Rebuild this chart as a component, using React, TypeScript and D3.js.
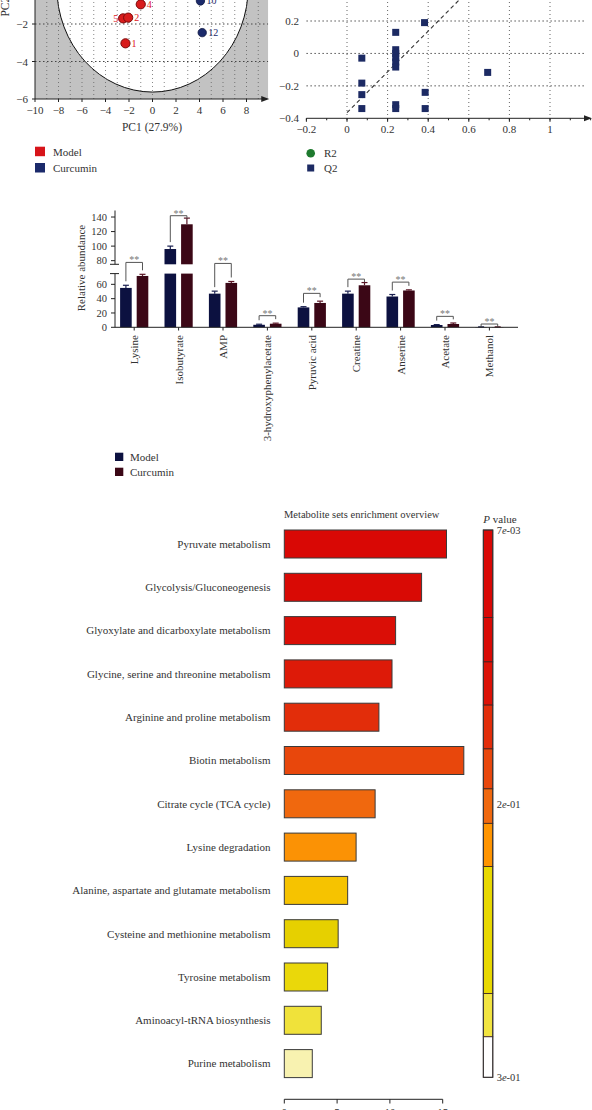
import React from 'react';
import * as d3 from 'd3';

const FONT = '"Liberation Serif", "DejaVu Serif", serif';
const TXT = '#333';

// ---------- Panel A: PCA score plot ----------
const pcaXTicks = [-10, -8, -6, -4, -2, 0, 2, 4, 6, 8];
const pcaYTicks = [-2, -4, -6];
const pcaModel = [
  { id: '1', x: -2.3, y: -3.03 },
  { id: '5', x: -2.5, y: -1.7 },
  { id: '2', x: -2.07, y: -1.66 },
  { id: '4', x: -1.0, y: -0.95 },
];
const pcaCurcumin = [
  { id: '10', x: 4.08, y: -0.77 },
  { id: '12', x: 4.23, y: -2.46 },
];
const ellipseAxes = [8.15, 5.63];

// ---------- Panel B: permutation test ----------
const permXTicks = [-0.2, 0, 0.2, 0.4, 0.6, 0.8, 1];
const permYTicks = [0.2, 0, -0.2, -0.4];
const q2X = [0.382, 0.24, 0.24, 0.24, 0.24, 0.24, 0.24, 0.073, 0.073, 0.073, 0.073, 0.24, 0.24, 0.385, 0.385, 0.693];
const q2Y = [0.19, 0.13, 0.023, 0.0, -0.026, -0.053, -0.084, -0.029, -0.183, -0.254, -0.34, -0.316, -0.34, -0.24, -0.34, -0.117];
const q2Fit = [-0.365, 1.257]; // intercept, slope

// ---------- Panel C: bar chart ----------
const metabolites = ['Lysine', 'Isobutyrate', 'AMP', '3-hydroxyphenylacetate', 'Pyruvic acid', 'Creatine', 'Anserine', 'Acetate', 'Methanol'];
const modelMean = [55, 96, 47, 3.5, 27.8, 47, 43, 3.2, 0.4];
const modelErr = [3.7, 4, 3.5, 0.8, 1, 3.5, 2.8, 0.6, 0.2];
const curcMean = [71.7, 130, 62, 5, 34, 58.7, 51.4, 4.6, 0.4];
const curcErr = [2.3, 8.5, 2, 0.8, 2.5, 3.8, 0.9, 1.4, 0.2];
const sigLevels = [77.6, 141.8, 76.2, 16.2, 47.4, 67.3, 63.1, 15.3, 4.6];
const lowerTicks = [0, 20, 40, 60];
const upperTicks = [80, 100, 120, 140];

// ---------- Panel D: enrichment ----------
const pathways = [
  'Pyruvate metabolism',
  'Glycolysis/Gluconeogenesis',
  'Glyoxylate and dicarboxylate metabolism',
  'Glycine, serine and threonine metabolism',
  'Arginine and proline metabolism',
  'Biotin metabolism',
  'Citrate cycle (TCA cycle)',
  'Lysine degradation',
  'Alanine, aspartate and glutamate metabolism',
  'Cysteine and methionine metabolism',
  'Tyrosine metabolism',
  'Aminoacyl-tRNA biosynthesis',
  'Purine metabolism',
];
const foldEnrichment = [15.36, 13.0, 10.54, 10.2, 8.96, 17.0, 8.6, 6.8, 6.0, 5.1, 4.1, 3.5, 2.65];
const pathwayColors = ['#d90805', '#d90a05', '#da0e06', '#dd1a08', '#e22d0a', '#e8470c', '#f0680e', '#fb9205', '#f6c300', '#e6d000', '#ead80a', '#f0e23a', '#f8f2b0'];
const enrichTicks = [0, 5, 10, 15];
const pStops = [0, 0.16, 0.241, 0.32, 0.4, 0.473, 0.536, 0.615, 0.847, 0.926, 1];
const pColors = ['#d90805', '#d90a05', '#dc1206', '#e22d0a', '#e8470c', '#f0680e', '#ff9400', '#e8d800', '#f2e440', '#ffffff'];
const pLabels = [
  { m: '7', ex: '-03', pos: 0 },
  { m: '2', ex: '-01', pos: 0.5 },
  { m: '3', ex: '-01', pos: 1 },
];

const minus = (s: string) => s.replace('-', '\u2212');

function PCA() {
  const x = d3.scaleLinear().domain([-10, 8]).range([35, 246.5]);
  const y = d3.scaleLinear().domain([-6, -2]).range([99, 24]);
  const left = x(-10), right = x(9.85), bottom = y(-6), top = y(6);
  const grid = d3.range(-9, 10, 1);
  return (
    <g>
      <defs>
        <clipPath id="pcaClip">
          <rect x={left} y={top} width={right - left} height={bottom - top} />
        </clipPath>
      </defs>
      <g clipPath="url(#pcaClip)">
        <rect x={left} y={top} width={right - left} height={bottom - top} fill="#c2c2c2" />
        <ellipse cx={x(0)} cy={y(0)} rx={x(ellipseAxes[0]) - x(0)} ry={y(0) - y(ellipseAxes[1])} fill="#fff" stroke="#111" strokeWidth={1} />
        {grid.map((g) => (
          <line key={'vx' + g} x1={x(g)} x2={x(g)} y1={top} y2={bottom} stroke="#555" strokeDasharray="1,3" strokeWidth={1} opacity={0.7} />
        ))}
        {[-2, -4].map((g) => (
          <line key={'hy' + g} x1={left} x2={right} y1={y(g)} y2={y(g)} stroke="#444" strokeDasharray="1.5,2.5" strokeWidth={1} />
        ))}
      </g>
      <line x1={left} x2={left} y1={top} y2={bottom} stroke="#222" />
      <line x1={left} x2={right - 4} y1={bottom} y2={bottom} stroke="#222" />
      <path d={`M${right + 1},${bottom} l-8,-3 l0,6 z`} fill="#222" />
      {pcaXTicks.map((t) => (
        <g key={'xt' + t}>
          <line x1={x(t)} x2={x(t)} y1={bottom} y2={bottom + 3} stroke="#222" />
          <text x={x(t)} y={bottom + 15} textAnchor="middle" fontSize={11} fill={TXT}>{minus(String(t))}</text>
        </g>
      ))}
      {pcaYTicks.map((t) => (
        <g key={'yt' + t}>
          <line x1={left - 3} x2={left} y1={y(t)} y2={y(t)} stroke="#222" />
          <text x={left - 7} y={y(t) + 4} textAnchor="end" fontSize={11} fill={TXT}>{minus(String(t))}</text>
        </g>
      ))}
      <text x={152} y={131} textAnchor="middle" fontSize={11.5} fill={TXT}>PC1 (27.9%)</text>
      <text transform={`translate(9,${y(0)}) rotate(-90)`} textAnchor="middle" fontSize={11.5} fill={TXT}>PC2 (16.4%)</text>
      {pcaModel.map((p) => (
        <g key={'m' + p.id}>
          <circle cx={x(p.x)} cy={y(p.y)} r={4.6} fill="#d81c1c" stroke="#7a0a0a" strokeWidth={1} />
          <text x={p.id === '5' ? x(p.x) - 5 : x(p.x) + 6} y={y(p.y) + 3.5} textAnchor={p.id === '5' ? 'end' : 'start'} fontSize={10} fill="#e0161b">{p.id}</text>
        </g>
      ))}
      {pcaCurcumin.map((p) => (
        <g key={'c' + p.id}>
          <circle cx={x(p.x)} cy={y(p.y)} r={4.2} fill="#1b2a6b" stroke="#0e1640" strokeWidth={0.8} />
          <text x={x(p.x) + 6} y={y(p.y) + 3.5} fontSize={10} fill="#1b2a6b">{p.id}</text>
        </g>
      ))}
      <rect x={35} y={146.7} width={10} height={9.5} fill="#d7141a" />
      <text x={53} y={155.5} fontSize={11} fill={TXT}>Model</text>
      <rect x={35} y={163} width={10} height={9.5} fill="#1b2a6b" />
      <text x={53} y={172} fontSize={11} fill={TXT}>Curcumin</text>
    </g>
  );
}

function Permutation() {
  const x = d3.scaleLinear().domain([0, 1]).range([347, 550]);
  const y = d3.scaleLinear().domain([-0.4, 0.2]).range([118.3, 21]);
  const left = x(-0.2), right = 592, bottom = y(-0.4);
  const gridX = [0, 0.2, 0.4, 0.6, 0.8, 1];
  const minor = d3.range(-0.2, 1.21, 0.1);
  const line = d3.line<number>().x((d) => x(d)).y((d) => y(q2Fit[0] + q2Fit[1] * d));
  return (
    <g>
      {gridX.map((g) => (
        <line key={'g' + g} x1={x(g)} x2={x(g)} y1={-10} y2={bottom} stroke="#666" strokeDasharray="1,3" />
      ))}
      {[0.2, 0, -0.2].map((g) => (
        <line key={'h' + g} x1={left} x2={right - 6} y1={y(g)} y2={y(g)} stroke="#555" strokeDasharray="1.5,2.5" />
      ))}
      <line x1={left} x2={right - 5} y1={bottom} y2={bottom} stroke="#222" />
      <path d={`M${right},${bottom} l-8,-3 l0,6 z`} fill="#222" />
      {minor.map((t, i) => (
        <line key={'mt' + i} x1={x(t)} x2={x(t)} y1={bottom} y2={bottom + 2} stroke="#222" />
      ))}
      {permXTicks.map((t) => (
        <g key={'xt' + t}>
          <line x1={x(t)} x2={x(t)} y1={bottom} y2={bottom + 3.5} stroke="#222" />
          <text x={x(t)} y={bottom + 15} textAnchor="middle" fontSize={11} fill={TXT}>{minus(String(t))}</text>
        </g>
      ))}
      {permYTicks.map((t) => (
        <text key={'yt' + t} x={299} y={y(t) + 4} textAnchor="end" fontSize={11} fill={TXT}>{minus(String(t))}</text>
      ))}
      <path d={line([0, 0.6]) || ''} fill="none" stroke="#333" strokeWidth={1.1} strokeDasharray="4,3" />
      {q2X.map((v, i) => (
        <rect key={'q' + i} x={x(v) - 3.5} y={y(q2Y[i]) - 3.5} width={7} height={7} fill="#1c2a63" />
      ))}
      <circle cx={310.7} cy={153.3} r={4.3} fill="#1e7a2e" />
      <text x={324} y={157} fontSize={11} fill={TXT}>R2</text>
      <rect x={307.2} y={164.5} width={7} height={7} fill="#1c2a63" />
      <text x={324} y={172} fontSize={11} fill={TXT}>Q2</text>
    </g>
  );
}

function Bars() {
  const x = d3.scaleBand<string>().domain(metabolites).range([112, 112 + 9 * 44.4]);
  const sub = d3.scaleBand<string>().domain(['Model', 'Curcumin']).range([-14.1, 14.1]).paddingInner(0.3);
  const yLow = d3.scaleLinear().domain([0, 75]).range([327.3, 273.6]);
  const yUp = d3.scaleLinear().domain([75, 148]).range([264.3, 211.2]);
  const yv = (v: number) => (v <= 75 ? yLow(v) : yUp(v));
  const axisX = 115;
  const colors = { Model: '#0c1140', Curcumin: '#3b0716' };
  const bw = sub.bandwidth();
  const drawBar = (cx: number, v: number, c: string, key: string) => {
    if (v <= 75) {
      return <rect key={key} x={cx} y={yLow(v)} width={bw} height={yLow(0) - yLow(v)} fill={c} />;
    }
    return (
      <g key={key}>
        <rect x={cx} y={yLow(75)} width={bw} height={yLow(0) - yLow(75)} fill={c} />
        <rect x={cx} y={yUp(v)} width={bw} height={yUp(75) - yUp(v)} fill={c} />
      </g>
    );
  };
  return (
    <g>
      {metabolites.map((m, i) => {
        const c = (x(m) || 0) + x.bandwidth() / 2;
        const mx = c + (sub('Model') || 0);
        const cxp = c + (sub('Curcumin') || 0);
        const mTop = yv(modelMean[i] + modelErr[i]);
        const cTop = yv(curcMean[i] + curcErr[i]);
        const bTop = yv(sigLevels[i]);
        const lx = mx + bw / 2, rx = cxp + bw / 2;
        const lb = Math.max(bTop + 3, mTop - 4);
        const rb = Math.max(bTop + 3, cTop - 4);
        return (
          <g key={m}>
            {drawBar(mx, modelMean[i], colors.Model, 'm')}
            {drawBar(cxp, curcMean[i], colors.Curcumin, 'c')}
            <line x1={lx} x2={lx} y1={yv(modelMean[i])} y2={mTop} stroke="#1a2050" strokeWidth={1.2} />
            <line x1={lx - 3} x2={lx + 3} y1={mTop} y2={mTop} stroke="#1a2050" strokeWidth={1.2} />
            <line x1={rx} x2={rx} y1={yv(curcMean[i])} y2={cTop} stroke="#5a1425" strokeWidth={1.2} />
            <line x1={rx - 3} x2={rx + 3} y1={cTop} y2={cTop} stroke="#5a1425" strokeWidth={1.2} />
            <path d={`M${lx},${lb} V${bTop} H${rx} V${rb}`} fill="none" stroke="#555" strokeWidth={1} />
            <text x={(lx + rx) / 2} y={bTop + 1} textAnchor="middle" fontSize={10} fill="#777">**</text>
            <line x1={c} x2={c} y1={327.3} y2={330.5} stroke="#222" />
            <text transform={`translate(${c + 4},${335}) rotate(-90)`} textAnchor="end" fontSize={11} fill={TXT}>{m}</text>
          </g>
        );
      })}
      <line x1={axisX} x2={518} y1={327.3} y2={327.3} stroke="#222" />
      <line x1={axisX} x2={axisX} y1={327.3} y2={273.6} stroke="#222" />
      <line x1={axisX} x2={axisX} y1={264.3} y2={210.5} stroke="#222" />
      <line x1={110} x2={119} y1={273.6} y2={273.6} stroke="#222" />
      <line x1={110} x2={119} y1={264.3} y2={264.3} stroke="#222" />
      {lowerTicks.map((t) => (
        <g key={'l' + t}>
          <line x1={axisX - 4} x2={axisX} y1={yLow(t)} y2={yLow(t)} stroke="#222" />
          <text x={107} y={yLow(t) + 3.8} textAnchor="end" fontSize={10.5} fill={TXT}>{t}</text>
        </g>
      ))}
      {upperTicks.map((t) => (
        <g key={'u' + t}>
          <line x1={axisX - 4} x2={axisX} y1={yUp(t)} y2={yUp(t)} stroke="#222" />
          <text x={107} y={yUp(t) + 3.8} textAnchor="end" fontSize={10.5} fill={TXT}>{t}</text>
        </g>
      ))}
      <text transform="translate(85,268) rotate(-90)" textAnchor="middle" fontSize={11} fill={TXT}>Relative abundance</text>
      <rect x={115} y={452.7} width={8.3} height={8.3} fill={colors.Model} />
      <text x={130} y={460.5} fontSize={11} fill={TXT}>Model</text>
      <rect x={115} y={467.7} width={8.3} height={8.3} fill={colors.Curcumin} />
      <text x={130} y={475.5} fontSize={11} fill={TXT}>Curcumin</text>
    </g>
  );
}

function Enrichment() {
  const x = d3.scaleLinear().domain([0, 15]).range([284.3, 442.7]);
  const y = d3.scaleBand<string>().domain(pathways).range([522.35, 522.35 + 13 * 43.3]);
  const bh = 28;
  const cb = d3.scaleLinear().domain([0, 1]).range([530, 1077.3]);
  const cbx = 483.3, cbw = 9.5;
  return (
    <g>
      <text x={361.7} y={518} textAnchor="middle" fontSize={10.5} fill={TXT}>Metabolite sets enrichment overview</text>
      {pathways.map((p, i) => {
        const cy = (y(p) || 0) + y.bandwidth() / 2;
        return (
          <g key={p}>
            <rect x={x(0)} y={cy - bh / 2} width={x(foldEnrichment[i]) - x(0)} height={bh} fill={pathwayColors[i]} stroke="#3a3a3a" strokeWidth={1} />
            <text x={270.5} y={cy + 3.8} textAnchor="end" fontSize={11} fill={TXT}>{p}</text>
          </g>
        );
      })}
      <line x1={x(0)} x2={x(15)} y1={1099.3} y2={1099.3} stroke="#222" />
      {enrichTicks.map((t) => (
        <g key={'et' + t}>
          <line x1={x(t)} x2={x(t)} y1={1099.3} y2={1103.5} stroke="#222" />
          <text x={x(t)} y={1115.5} textAnchor="middle" fontSize={11} fill={TXT}>{t}</text>
        </g>
      ))}
      {pColors.map((c, i) => (
        <rect key={'cb' + i} x={cbx} y={cb(pStops[i])} width={cbw} height={cb(pStops[i + 1]) - cb(pStops[i])} fill={c} stroke="#3a2020" strokeWidth={0.8} />
      ))}
      <rect x={cbx} y={cb(0)} width={cbw} height={cb(1) - cb(0)} fill="none" stroke="#333" strokeWidth={1} />
      <text x={483.3} y={523} fontSize={11} fill={TXT}>
        <tspan fontStyle="italic">P</tspan> value
      </text>
      {pLabels.map((l) => (
        <text key={'pl' + l.pos} x={496.7} y={cb(l.pos) + 4} fontSize={10.5} fill={TXT}>
          {l.m}<tspan fontStyle="italic">e</tspan>{l.ex}
        </text>
      ))}
    </g>
  );
}

export default function App() {
  return (
    <svg
      width={592}
      height={1110}
      viewBox="0 0 592 1110"
      style={{ position: 'absolute', left: 0, top: 0, background: '#fff', fontFamily: FONT }}
    >
      <rect x={0} y={0} width={592} height={1110} fill="#fff" />
      <PCA />
      <Permutation />
      <Bars />
      <Enrichment />
    </svg>
  );
}
